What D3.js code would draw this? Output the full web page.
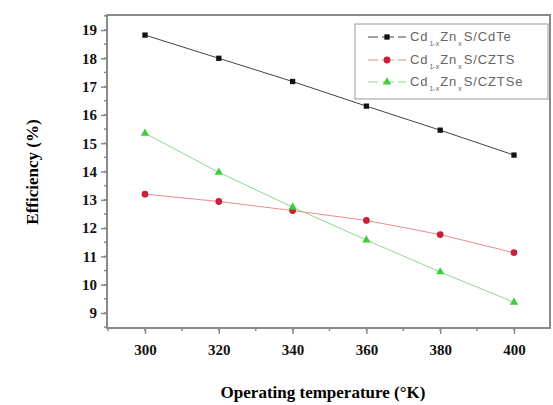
<!DOCTYPE html>
<html>
<head>
<meta charset="utf-8">
<script src="https://cdn.jsdelivr.net/npm/d3@7"></script>
<style>
  body { margin: 0; background: #fff; }
  svg { display: block; }
</style>
</head>
<body>
<div class="vis"></div>
<script>
// data
const temps = [300, 320, 340, 360, 380, 400];
const cdte = [18.82, 18.0, 17.18, 16.31, 15.46, 14.58];
const czts = [13.2, 12.94, 12.62, 12.27, 11.77, 11.13];
const cztse = [15.35, 13.97, 12.74, 11.58, 10.45, 9.38];
const yTicks = [9, 10, 11, 12, 13, 14, 15, 16, 17, 18, 19];
const xTicks = [300, 320, 340, 360, 380, 400];

const W = 553, H = 405;
const box = { left: 107, top: 15, right: 550, bottom: 328 };

const svg = d3.select(".vis").append("svg")
    .attr("width", W).attr("height", H);

const x = d3.scaleLinear().domain([300, 400]).range([145, 514]);
const y = d3.scaleLinear().domain([9, 19]).range([313, 30]);

// frame
svg.append("rect")
    .attr("x", box.left).attr("y", box.top)
    .attr("width", box.right - box.left).attr("height", box.bottom - box.top)
    .attr("fill", "none").attr("stroke", "#8a8a8a").attr("stroke-width", 2);

// minor ticks
const yMinor = d3.range(8.5, 19.6, 0.5).filter(v => y(v) > box.top && y(v) < box.bottom);
svg.append("g").selectAll("line").data(yMinor).join("line")
    .attr("x1", box.left - 3).attr("x2", box.left)
    .attr("y1", d => y(d)).attr("y2", d => y(d))
    .attr("stroke", "#8a8a8a").attr("stroke-width", 1.5);
const xMinor = d3.range(290, 411, 10).filter(v => x(v) > box.left && x(v) < box.right);
svg.append("g").selectAll("line").data(xMinor).join("line")
    .attr("y1", box.bottom).attr("y2", box.bottom + 3)
    .attr("x1", d => x(d)).attr("x2", d => x(d))
    .attr("stroke", "#8a8a8a").attr("stroke-width", 1.5);

// axes
const yAxis = svg.append("g")
    .attr("transform", `translate(${box.left},0)`)
    .call(d3.axisLeft(y).tickValues(yTicks).tickSize(6).tickPadding(4).tickFormat(d3.format("d")));
const xAxis = svg.append("g")
    .attr("transform", `translate(0,${box.bottom})`)
    .call(d3.axisBottom(x).tickValues(xTicks).tickSize(6).tickPadding(10).tickFormat(d3.format("d")));
[yAxis, xAxis].forEach(a => {
    a.select(".domain").remove();
    a.selectAll(".tick line").attr("stroke", "#8a8a8a").attr("stroke-width", 1.5);
    a.selectAll(".tick text")
        .attr("fill", "#111")
        .style("font-family", "'Liberation Serif', 'Times New Roman', serif")
        .style("font-weight", "bold")
        .style("font-size", "15px");
});

// axis titles
svg.append("text")
    .attr("x", 323).attr("y", 398)
    .attr("text-anchor", "middle")
    .style("font-family", "'Liberation Serif', 'Times New Roman', serif")
    .style("font-weight", "bold").style("font-size", "17px")
    .text("Operating temperature (°K)");
svg.append("text")
    .attr("transform", "translate(38,172) rotate(-90)")
    .attr("text-anchor", "middle")
    .style("font-family", "'Liberation Serif', 'Times New Roman', serif")
    .style("font-weight", "bold").style("font-size", "17px")
    .text("Efficiency (%)");

const series = [
    { name: "CdTe", values: cdte, line: "#444", mark: "#111", shape: d3.symbolSquare, size: 28 },
    { name: "CZTS", values: czts, line: "#f08a8a", mark: "#c8203a", shape: d3.symbolCircle, size: 36 },
    { name: "CZTSe", values: cztse, line: "#8fd88f", mark: "#3ccf3c", shape: d3.symbolTriangle, size: 30 }
];

const line = d3.line().x((d, i) => x(temps[i])).y(d => y(d));

series.forEach(s => {
    svg.append("path")
        .datum(s.values)
        .attr("d", line)
        .attr("fill", "none")
        .attr("stroke", s.line)
        .attr("stroke-width", 1);
    svg.append("g").selectAll("path").data(s.values).join("path")
        .attr("transform", (d, i) => `translate(${x(temps[i])},${y(d)})`)
        .attr("d", d3.symbol().type(s.shape).size(s.size))
        .attr("fill", s.mark);
});

// legend
const lg = svg.append("g");
lg.append("rect")
    .attr("x", 355).attr("y", 24).attr("width", 193).attr("height", 75)
    .attr("fill", "#fff").attr("stroke", "#9a9a9a").attr("stroke-width", 1);
const rows = [37, 60, 82];
series.forEach((s, i) => {
    const ry = rows[i];
    lg.append("line")
        .attr("x1", 368).attr("x2", 406).attr("y1", ry).attr("y2", ry)
        .attr("stroke", s.line).attr("stroke-width", 1)
        .attr("stroke-dasharray", "10,4,12,4,10");
    lg.append("path")
        .attr("transform", `translate(387,${ry})`)
        .attr("d", d3.symbol().type(s.shape).size(s.size))
        .attr("fill", s.mark);
    const t = lg.append("text")
        .attr("x", 410).attr("y", ry + 4)
        .attr("fill", "#666")
        .style("font-family", "'Liberation Sans', Arial, sans-serif")
        .style("font-size", "13px")
        .style("letter-spacing", "0.9px");
    t.append("tspan").text("Cd");
    t.append("tspan").attr("dy", 5).attr("dx", 1).style("font-size", "7px").style("letter-spacing", "0px").text("1-x");
    t.append("tspan").attr("dy", -5).attr("dx", 1).text("Zn");
    t.append("tspan").attr("dy", 5).attr("dx", 1).style("font-size", "7px").style("letter-spacing", "0px").text("x");
    t.append("tspan").attr("dy", -5).attr("dx", 2).text("S/" + s.name);
});
</script>
</body>
</html>
